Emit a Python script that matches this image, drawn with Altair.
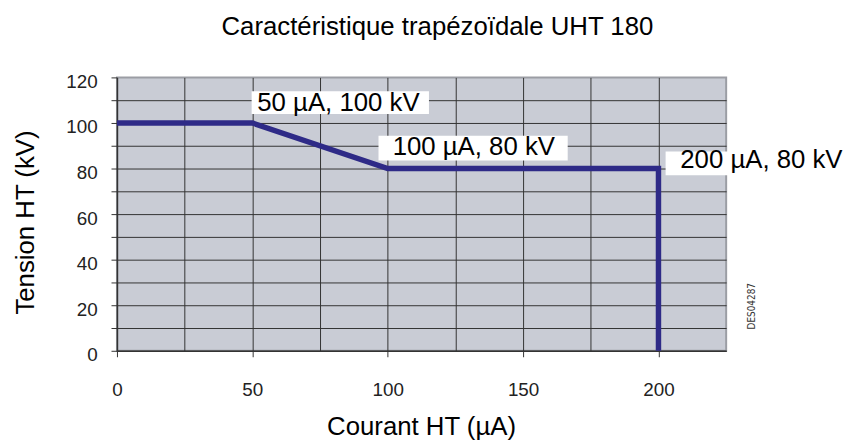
import altair as alt
import pandas as pd

# --- data ---
current = [0, 50, 100, 200, 200]          # µA
voltage = [100, 100, 80, 80, 0]           # kV
order = [0, 1, 2, 3, 4]

label_x = [50, 100, 200]
label_y = [100, 80, 80]
label_text = ["50 µA, 100 kV", "100 µA, 80 kV", "200 µA, 80 kV"]

x_ticks = [0, 25, 50, 75, 100, 125, 150, 175, 200]
y_ticks = [0, 10, 20, 30, 40, 50, 60, 70, 80, 90, 100, 110, 120]

title_text = "Caractéristique trapézoïdale UHT 180"
x_title = "Courant HT (µA)"
y_title = "Tension HT (kV)"
ref_code = "DES04287"

FONT = "Liberation Sans, Arial, sans-serif"
GRID = "#333333"
LINE = "#2e2a87"

# label styles (pixel offsets of text and its white box)
label_styles = [
    dict(dx=5, dy=-12, bw=179, bh=23, bx=88.8, by=-20.5),
    dict(dx=5, dy=-14, bw=191, bh=25, bx=86.2, by=-20.5),
    dict(dx=22, dy=-1, bw=182, bh=24, bx=98.2, by=-5.1),
]

df = pd.DataFrame({"x": current, "y": voltage, "i": order})

x_scale = alt.Scale(domain=[0, 225], nice=False, zero=True)
y_scale = alt.Scale(domain=[0, 120], nice=False, zero=True)

x_axis = alt.Axis(
    values=x_ticks, grid=True, gridColor=GRID, gridWidth=1,
    tickColor=GRID, tickSize=6, tickWidth=1,
    tickOpacity={"condition": {"test": "datum.value % 50 != 0", "value": 0}, "value": 1},
    labelExpr="datum.value % 50 == 0 ? datum.label : ''",
    labelFont=FONT, labelFontSize=19, labelColor="#222222",
    labelBaseline="alphabetic", labelPadding=39, labelFlush=False, labelOverlap=False,
    domainColor=GRID, domainWidth=1.5,
    title=x_title, titleFont=FONT, titleFontSize=26, titleFontWeight="normal",
    titleColor="#000000", titleX=307, titleY=85, titleBaseline="alphabetic",
    titleAlign="center",
)

y_axis = alt.Axis(
    values=y_ticks, grid=True, gridColor=GRID, gridWidth=1,
    gridOpacity={"condition": {"test": "datum.value == 120", "value": 0}, "value": 1},
    tickColor=GRID, tickSize=6, tickWidth=1,
    labelExpr="datum.value % 20 == 0 ? datum.label : ''",
    labelFont=FONT, labelFontSize=19, labelColor="#222222",
    labelBaseline="middle", labelPadding=14, labelOffset=4, labelOverlap=False,
    labelFlush=False,
    domainColor=GRID, domainWidth=1.5,
    title=y_title, titleFont=FONT, titleFontSize=26, titleFontWeight="normal",
    titleColor="#000000", titleX=-92, titleY=146, titleAngle=270,
    titleBaseline="middle", titleAlign="center",
)

X = alt.X("x:Q", scale=x_scale, axis=x_axis)
Y = alt.Y("y:Q", scale=y_scale, axis=y_axis)

line = alt.Chart(df).mark_line(
    color=LINE, strokeWidth=5.5, strokeCap="butt", strokeJoin="miter"
).encode(x=X, y=Y, order="i:Q")

layers = [line]
for i in range(len(label_text)):
    st = label_styles[i]
    ldf = pd.DataFrame({"x": [label_x[i]], "y": [label_y[i]], "t": [label_text[i]]})
    box = alt.Chart(ldf).mark_rect(
        color="white", width=st["bw"], height=st["bh"],
        xOffset=st["bx"], yOffset=st["by"],
    ).encode(x=X, y=Y)
    txt = alt.Chart(ldf).mark_text(
        align="left", baseline="alphabetic", dx=st["dx"], dy=st["dy"],
        font=FONT, fontSize=26, color="#000000",
    ).encode(x=X, y=Y, text="t:N")
    layers += [box, txt]

code_df = pd.DataFrame({"x": [225], "y": [20], "t": [ref_code]})
code = alt.Chart(code_df).mark_text(
    angle=270, align="center", baseline="middle",
    font="Liberation Sans Narrow, DejaVu Sans Condensed, sans-serif",
    fontSize=10, color="#333333", xOffset=26, yOffset=1,
).encode(x=X, y=Y, text="t:N")
layers.append(code)

chart = alt.layer(*layers).properties(
    width=615, height=276,
    title=alt.TitleParams(
        title_text, font=FONT, fontSize=26, fontWeight="normal", color="#000000",
        anchor="middle", dx=16, offset=12, baseline="alphabetic",
    ),
    autosize=alt.AutoSizeParams(type="none"),
    padding={"left": 110, "top": 68, "right": 123, "bottom": 89},
).configure_view(
    fill="#c9ccd5", stroke="#9b9da4", strokeWidth=2
)

chart.save("out.html", embed_options={"renderer": "svg", "actions": False})
